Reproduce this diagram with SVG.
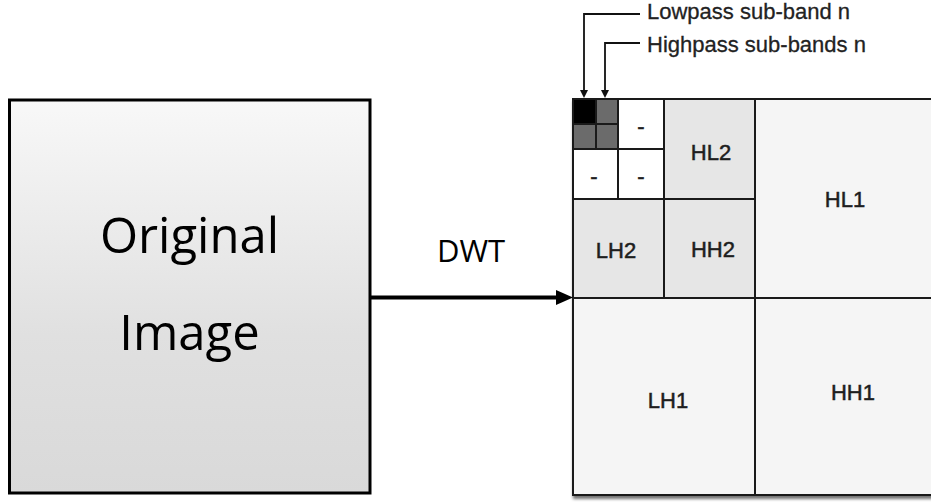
<svg xmlns="http://www.w3.org/2000/svg" width="931" height="503" viewBox="0 0 931 503">
<defs>
<linearGradient id="boxGrad" x1="0" y1="0" x2="0" y2="1">
<stop offset="0" stop-color="#f8f8f8"/>
<stop offset="0.6" stop-color="#e0e0e0"/>
<stop offset="1" stop-color="#d9d9d9"/>
</linearGradient>
<filter id="shadow" x="-5%" y="-5%" width="115%" height="115%">
<feDropShadow dx="1" dy="3" stdDeviation="1.6" flood-color="#000" flood-opacity="0.55"/>
</filter>
</defs>
<style>
.cell{stroke:#1a1a1a;stroke-width:2}
.lvl1{fill:#f5f5f5}
.lvl2{fill:#e6e6e6}
.white{fill:#ffffff}
.lbl{font-family:"Liberation Sans",Arial,sans-serif;font-size:22px;fill:#1e1e1e;stroke:#1e1e1e;stroke-width:0.5;text-anchor:middle}
.note{font-family:"Liberation Sans",Arial,sans-serif;font-size:22px;fill:#222;stroke:#222;stroke-width:0.3}
.big{font-family:"Open Sans","Noto Sans",sans-serif;font-size:49px;fill:#000;text-anchor:middle}
.lead{fill:none;stroke:#111;stroke-width:1.8}
</style>

<g id="original-image">
<rect x="9.5" y="100" width="360.5" height="393" fill="url(#boxGrad)" stroke="#000" stroke-width="3"/>
<text class="big" x="189.5" y="253">Original</text>
<text class="big" x="189.5" y="350">Image</text>
</g>

<g id="dwt-grid">
<rect x="573" y="99" width="370" height="396" class="cell lvl1" filter="url(#shadow)"/>
<g id="HL1"><rect x="755" y="99" width="188" height="199" class="cell lvl1"/><text class="lbl" x="845" y="207">HL1</text></g>
<g id="LH1"><rect x="573" y="298" width="182" height="197" class="cell lvl1"/><text class="lbl" x="668" y="408">LH1</text></g>
<g id="HH1"><rect x="755" y="298" width="188" height="197" class="cell lvl1"/><text class="lbl" x="853" y="400">HH1</text></g>
<g id="HL2"><rect x="664" y="99" width="91" height="100" class="cell lvl2"/><text class="lbl" x="711" y="160">HL2</text></g>
<g id="LH2"><rect x="573" y="199" width="91" height="99" class="cell lvl2"/><text class="lbl" x="616" y="258">LH2</text></g>
<g id="HH2"><rect x="664" y="199" width="91" height="99" class="cell lvl2"/><text class="lbl" x="713" y="257">HH2</text></g>
<g id="HL3"><rect x="618" y="99" width="46" height="50" class="cell white"/><text class="lbl" x="641" y="134">-</text></g>
<g id="LH3"><rect x="573" y="149" width="45" height="50" class="cell white"/><text class="lbl" x="594" y="184">-</text></g>
<g id="HH3"><rect x="618" y="149" width="46" height="50" class="cell white"/><text class="lbl" x="641" y="184">-</text></g>
<g id="LL-n"><rect x="573" y="99" width="23" height="25" class="cell" fill="#000"/></g>
<g id="HP-n">
<rect x="596" y="99" width="22" height="25" class="cell" fill="#6b6b6b"/>
<rect x="573" y="124" width="23" height="25" class="cell" fill="#6b6b6b"/>
<rect x="596" y="124" width="22" height="25" class="cell" fill="#6b6b6b"/>
</g>
</g>

<g id="labels">
<text class="note" x="647" y="19">Lowpass sub-band n</text>
<text class="note" x="647" y="52">Highpass sub-bands n</text>
<text x="471" y="262" font-family="'Open Sans','Noto Sans',sans-serif" font-size="31" fill="#000" text-anchor="middle">DWT</text>
</g>

<g id="connectors">
<line x1="370" y1="297.5" x2="558" y2="297.5" stroke="#000" stroke-width="4"/>
<polygon points="556,290 573,297.5 556,305" fill="#000"/>
<polyline class="lead" points="640,14 584,14 584,91"/>
<polygon points="580,90 588,90 584,98" fill="#111"/>
<polyline class="lead" points="640,43 605,43 605,91"/>
<polygon points="601,90 609,90 605,98" fill="#111"/>
</g>
</svg>
